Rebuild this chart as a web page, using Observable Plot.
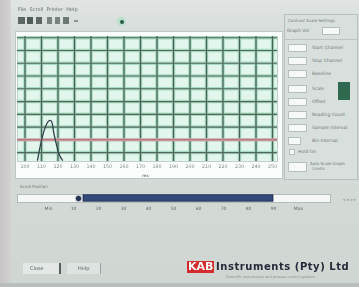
<!DOCTYPE html>
<html><head><meta charset="utf-8">
<script src="https://cdn.jsdelivr.net/npm/d3@7"></script>
<script src="https://cdn.jsdelivr.net/npm/@observablehq/plot@0.6"></script>
<style>
html,body{margin:0;padding:0;width:359px;height:287px;overflow:hidden;}
body{position:relative;background:linear-gradient(180deg,#e0e4e2 0px,#d8dedb 30px,#d3dad6 200px,#d0d7d3 280px);font-family:"DejaVu Sans",sans-serif;filter:blur(0.45px);}
.a{position:absolute;}
.t{position:absolute;white-space:nowrap;color:#6f7a78;font-size:4.5px;line-height:5px;}
.box{position:absolute;background:#f6f9f8;border:1px solid #b5bfbb;}
.ico{position:absolute;top:17px;height:7px;background:#5d6866;}
</style></head>
<body>
<div class="a" style="left:0;top:0;width:11px;height:287px;background:linear-gradient(90deg,#c9c3c4,#d2d3d2);"></div>
<div class="t" style="left:18px;top:7px;font-size:5px;color:#66706f;">File&nbsp; Scroll&nbsp; Printer&nbsp; Help</div>
<div class="ico" style="left:18px;width:7px;"></div>
<div class="ico" style="left:27px;width:6px;background:#4f5b59"></div>
<div class="ico" style="left:36px;width:6px;"></div>
<div class="ico" style="left:47px;width:5px;background:#78827f"></div>
<div class="ico" style="left:55px;width:5px;background:#78827f"></div>
<div class="ico" style="left:63px;width:6px;background:#6d7774"></div>
<div class="ico" style="left:74px;width:4px;top:20px;height:2px;background:#8c9592"></div>
<div class="a" style="left:117px;top:17px;width:9px;height:9px;border-radius:50%;background:#b9e0cc;"></div>
<div class="a" style="left:119.5px;top:19.5px;width:4px;height:4px;border-radius:50%;background:#2e5a45;"></div>

<div class="a" id="chartbox" style="left:15px;top:31px;width:268px;height:148px;background:#fbfdfc;border:1px solid #bfc7c3;box-sizing:border-box;"></div>

<div class="t" style="left:20px;top:184px;font-size:4px;">Scroll Position</div>
<div class="a" id="slider" style="left:15px;top:190px;width:320px;height:26px;"></div>
<div class="t" style="left:343px;top:197px;font-size:4px;">&lt;&lt;&gt;&gt;</div>

<div class="a" style="left:284px;top:14px;width:74px;height:166px;border:1px solid #b7c0bc;background:#d9dfdc;box-sizing:border-box;"></div>
<div class="t" style="left:288px;top:18px;font-size:4px;">Contrast Scale Settings</div>
<div class="t" style="left:287px;top:28px;">Graph Vol</div>
<div class="box" style="left:322px;top:27px;width:16px;height:6px;"></div>
<div class="a" style="left:285px;top:39px;width:72px;height:1px;background:#bcc5c1;"></div>
<div id="rows"></div>
<div class="a" style="left:338px;top:82px;width:12px;height:18px;background:#2f6a50;"></div>
<div class="box" style="left:289px;top:149px;width:4px;height:4px;"></div>
<div class="t" style="left:298px;top:149px;">Hold On</div>
<div class="box" style="left:288px;top:162px;width:17px;height:8px;"></div>
<div class="t" style="left:310px;top:162px;font-size:4px;line-height:4.5px;">Auto Scale Graph<br>&nbsp;&nbsp;Limits</div>

<div class="a" style="left:23px;top:263px;width:36px;height:11px;background:#e3e8e6;border-right:2px solid #55605d;"></div>
<div class="t" style="left:30px;top:266px;font-size:5px;color:#4f5957;">Close</div>
<div class="a" style="left:67px;top:263px;width:33px;height:11px;background:#dde3e0;border-right:1px solid #9aa4a0;"></div>
<div class="t" style="left:78px;top:266px;font-size:5px;color:#5a6462;">Help</div>
<div class="t" style="left:187px;top:261px;font-size:11px;line-height:12px;font-weight:bold;color:#fff;background:#d42c2c;padding:0 1px;">KAB</div>
<div class="t" style="left:216px;top:261px;font-size:10px;line-height:12px;font-weight:bold;color:#262a38;letter-spacing:0.55px;">Instruments (Pty) Ltd</div>
<div class="t" style="left:226px;top:275px;font-size:3.5px;color:#8a9290;">Scientific instruments and process control systems</div>
<div class="a" style="left:0;top:283px;width:359px;height:4px;background:#b7bebb;"></div>

<script>
// ---- data ----
const xTicks = [0,1,2,3,4,5,6,7,8,9,10,11,12,13,14,15];
const xTickLabels = ["100","110","120","130","140","150","160","170","180","190","200","210","220","230","240","250"];
const yTicks = [0,1,2,3,4,5,6,7,8,9];
const limitLevel = [1];
const traceX = [0.76, 0.94, 1.18, 1.42, 1.58, 1.75, 1.92, 2.09, 2.27];
const traceY = [-0.6, 0.6, 1.8, 2.45, 2.5, 1.5, 0.55, -0.2, -0.6];
const axisUnit = ["ms"];

const sliderTicks = [0,1,2,3,4,5,6,7,8,9,10];
const sliderLabels = ["Min","10","20","30","40","50","60","70","80","90","Max"];
const windowStart = [1.4];
const windowEnd = [9.0];
const thumbPos = [1.2];

const rowLabels = ["Start Channel","Stop Channel","Baseline","Scale","Offset","Reading Count","Sample Interval","Bin Interval"];
const rowTops = [44,57,70,85,98,111,124,137];

// ---- right panel rows ----
const rows = document.getElementById("rows");
rowLabels.forEach((lab,i)=>{
  const b=document.createElement("div");b.className="box";
  b.style.left="288px";b.style.top=rowTops[i]+"px";b.style.width=(i===7?11:17)+"px";b.style.height="6px";
  rows.appendChild(b);
  const t=document.createElement("div");t.className="t";
  t.style.left="312px";t.style.top=(rowTops[i]+1)+"px";t.textContent=lab;
  rows.appendChild(t);
});

// ---- main chart ----
const trace = traceX.map((x,i)=>({x, y: traceY[i]}));
const chart = Plot.plot({
  width: 266, height: 146,
  marginLeft: 1, marginRight: 5, marginTop: 4, marginBottom: 17,
  style: {background: "transparent", fontFamily: "DejaVu Sans, sans-serif", fontSize: "4.8px", color: "#7f8b8c", overflow: "visible"},
  x: {domain: [-0.4545, 15.303]},
  y: {domain: [-0.7, 9.1]},
  marks: [
    Plot.frame({fill: "#e2f6ed", stroke: "#c3cfca"}),
    Plot.ruleX(xTicks, {stroke: "#a6dbc1", strokeWidth: 3.5}),
    Plot.ruleY(yTicks, {stroke: "#a6dbc1", strokeWidth: 3.5}),
    Plot.ruleX(xTicks, {stroke: "#4a6256", strokeWidth: 1.3}),
    Plot.ruleY(yTicks, {stroke: "#53665c", strokeWidth: 1.15}),
    Plot.ruleY(limitLevel, {stroke: "#e2a9b0", strokeWidth: 3}),
    Plot.ruleY(limitLevel, {stroke: "#9a6a70", strokeWidth: 1}),
    Plot.line(trace, {x: "x", y: "y", stroke: "#34434a", strokeWidth: 1.3, curve: "catmull-rom"}),
    Plot.axisX({ticks: xTicks, tickFormat: d => xTickLabels[xTicks.indexOf(d)], tickSize: 0, tickPadding: 3, label: null}),
    Plot.axisY({ticks: [], label: null}),
    Plot.text(axisUnit, {x: 7.3, frameAnchor: "bottom", dy: 15.5, fill: "#3a4448", fontSize: 4.2})
  ]
});
document.getElementById("chartbox").appendChild(chart);

// ---- scroll slider ----
const slider = Plot.plot({
  width: 320, height: 26,
  marginLeft: 2, marginRight: 5, marginTop: 4, marginBottom: 14,
  style: {background: "transparent", fontFamily: "DejaVu Sans, sans-serif", fontSize: "4.5px", color: "#5f6a69", overflow: "visible"},
  x: {domain: [-1.24, 11.28]},
  y: {domain: [0, 1], axis: null},
  marks: [
    Plot.frame({fill: "#f5f8f7", stroke: "#b3bcb8"}),
    Plot.rect(windowStart, {x1: d => d, x2: (d,i) => windowEnd[i], y1: 0.1, y2: 0.9, fill: "#34497a", stroke: "#1c2a4a", strokeWidth: 0.8}),
    Plot.dot(thumbPos, {x: d => d, y: 0.5, r: 3.2, fill: "#22304f", stroke: "#e8eef0", strokeWidth: 0.8}),
    Plot.axisX({ticks: sliderTicks, tickFormat: d => sliderLabels[sliderTicks.indexOf(d)], tickSize: 0, tickPadding: 4, label: null})
  ]
});
document.getElementById("slider").appendChild(slider);
</script>
</body></html>
